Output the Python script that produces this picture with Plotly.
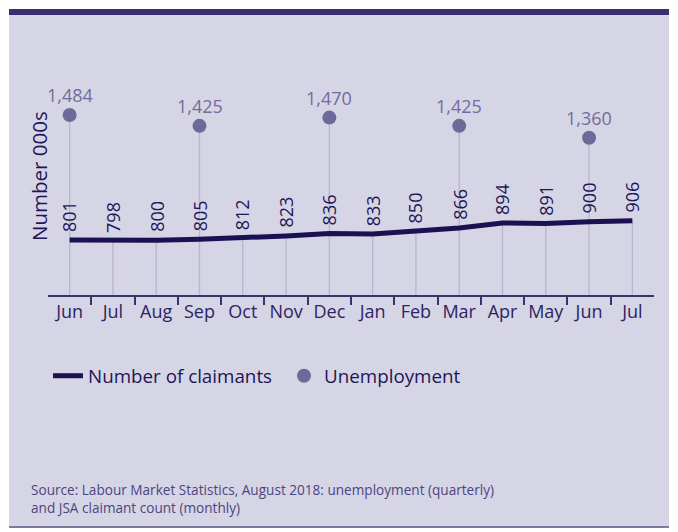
import plotly.graph_objects as go

# ---- data ----
months = ["Jun", "Jul", "Aug", "Sep", "Oct", "Nov", "Dec", "Jan", "Feb", "Mar", "Apr", "May", "Jun", "Jul"]
claimants = [801, 798, 800, 805, 812, 823, 836, 833, 850, 866, 894, 891, 900, 906]
unemp_idx = [0, 3, 6, 9, 12]
unemployment = [1484, 1425, 1470, 1425, 1360]
y_floor = 500
y_top = 1785

# ---- layout geometry (pixels) ----
W, H = 678, 532
L, R, T, B = 48, 24, 60, 237
pw = W - L - R
ph = H - T - B


def px_x(px):
    return (px - L) / pw


def px_y(py):
    return (H - B - py) / ph


x = list(range(len(months)))
unemp_by_x = dict(zip(unemp_idx, unemployment))

# drop lines from axis floor up to top value at each month
drop_x, drop_y = [], []
for i, c in enumerate(claimants):
    top = max(c, unemp_by_x.get(i, c))
    drop_x += [i, i, None]
    drop_y += [y_floor, top, None]

fig = go.Figure()
fig.add_trace(go.Scatter(x=drop_x, y=drop_y, mode="lines",
                         line=dict(color="#b7b5cf", width=1.3),
                         showlegend=False, hoverinfo="skip"))
fig.add_trace(go.Scatter(x=x, y=claimants, mode="lines", name="Number of claimants",
                         line=dict(color="#1b1052", width=5)))
fig.add_trace(go.Scatter(x=unemp_idx, y=unemployment, mode="markers", name="Unemployment",
                         marker=dict(color="#6d6998", size=14)))

# unemployment value labels
for i, v in zip(unemp_idx, unemployment):
    fig.add_annotation(x=i, y=v, xref="x", yref="y", text=f"{v:,}",
                       showarrow=False, yanchor="bottom", xanchor="center", yshift=6,
                       font=dict(family="Open Sans", size=18, color="#706c9c"))

# rotated claimant labels
for i, c in enumerate(claimants):
    fig.add_annotation(x=i, y=c, xref="x", yref="y", text=str(c), textangle=-90,
                       showarrow=False, yanchor="bottom", xanchor="center", yshift=6,
                       font=dict(family="Open Sans", size=18, color="#1e1656"))

# background frame
fig.add_shape(type="rect", xref="paper", yref="paper", layer="below",
              x0=px_x(9), x1=px_x(669), y0=px_y(527), y1=px_y(9),
              fillcolor="#d6d5e6", line=dict(width=0))
fig.add_shape(type="rect", xref="paper", yref="paper", layer="below",
              x0=px_x(9), x1=px_x(669), y0=px_y(15), y1=px_y(9),
              fillcolor="#3a306f", line=dict(width=0))
fig.add_shape(type="rect", xref="paper", yref="paper", layer="below",
              x0=px_x(9), x1=px_x(669), y0=px_y(528), y1=px_y(526),
              fillcolor="#7d7a9c", line=dict(width=0))

# y-axis title
fig.add_annotation(xref="paper", yref="paper", x=px_x(39), y=px_y(176),
                   text="Number 000s", textangle=-90, showarrow=False,
                   xanchor="center", yanchor="middle",
                   font=dict(family="Open Sans", size=20.5, color="#1e1656"))

# source note
fig.add_annotation(xref="paper", yref="paper", x=px_x(29), y=px_y(498),
                   text="Source: Labour Market Statistics, August 2018: unemployment (quarterly)<br>and JSA claimant count (monthly)",
                   showarrow=False, xanchor="left", yanchor="middle", align="left",
                   font=dict(family="Open Sans", size=13.6, color="#4b4580"))

fig.update_layout(
    width=W, height=H,
    margin=dict(l=L, r=R, t=T, b=B),
    paper_bgcolor="white", plot_bgcolor="rgba(0,0,0,0)",
    font=dict(family="Open Sans", size=18, color="#1e1656"),
    legend=dict(orientation="h", x=px_x(48), y=px_y(376), xanchor="left", yanchor="middle",
                bgcolor="rgba(0,0,0,0)", font=dict(size=18.8, color="#1e1656"),
                itemwidth=30, tracegroupgap=0, entrywidth=191, entrywidthmode="pixels"),
    xaxis=dict(range=[-0.5, len(months) - 0.5], tickvals=x, ticktext=months,
               ticks="", showgrid=False, zeroline=False,
               showline=True, linecolor="#3a3370", linewidth=1.5,
               ticklabelstandoff=0,
               tickfont=dict(family="Open Sans", size=18, color="#2b2463"),
               minor=dict(tickvals=[i + 0.5 for i in range(len(months) - 1)],
                          ticks="outside", ticklen=8, tickwidth=1.5, tickcolor="#3a3370",
                          showgrid=False)),
    yaxis=dict(range=[y_floor, y_top], visible=False, showgrid=False, zeroline=False),
)

fig.write_html("out.html")
